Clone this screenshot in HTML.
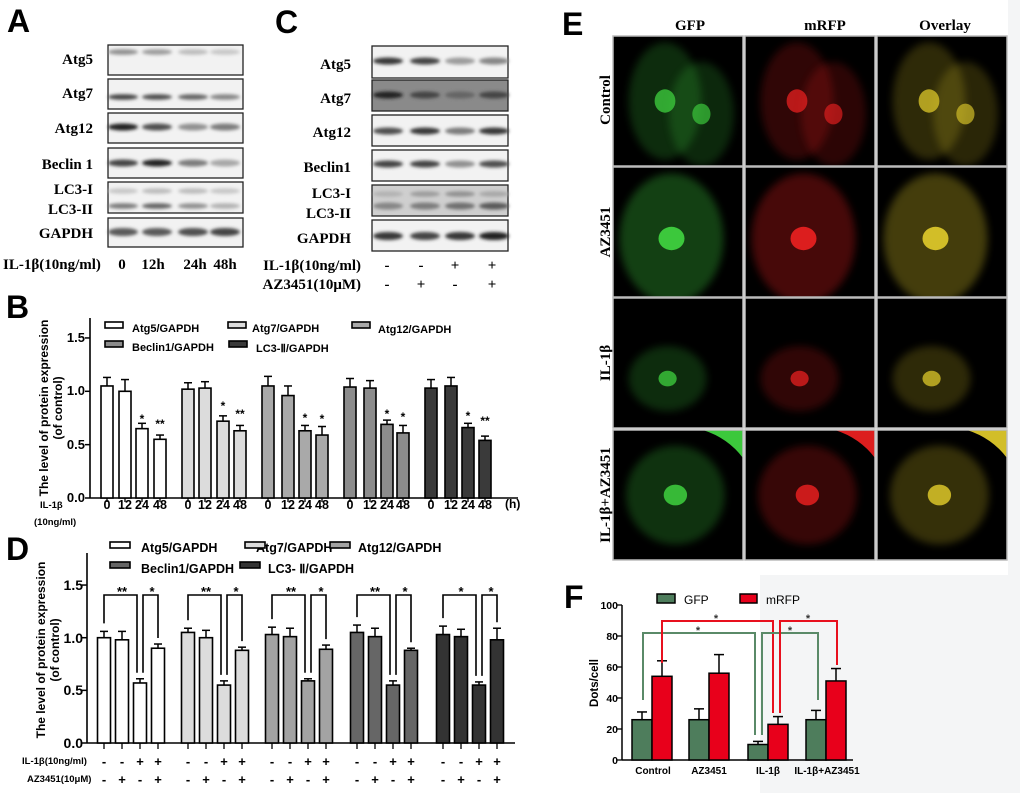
<!DOCTYPE html>
<html><head><meta charset="utf-8"><style>
html,body{margin:0;padding:0;background:#fff;}
svg{display:block;}
.L{font-family:"Liberation Sans",sans-serif;font-weight:bold;font-size:32px;}
.s{font-family:"Liberation Serif",serif;font-weight:bold;font-size:15px;}
.a{font-family:"Liberation Sans",sans-serif;font-weight:bold;}
</style></head><body>
<svg id="f" width="1020" height="793" viewBox="0 0 1020 793" xmlns="http://www.w3.org/2000/svg">
<defs>
<filter id="bl" x="-20%" y="-100%" width="140%" height="300%"><feGaussianBlur stdDeviation="1.6"/></filter>
<filter id="bl2" x="-50%" y="-50%" width="200%" height="200%"><feGaussianBlur stdDeviation="4"/></filter>
</defs>
<rect x="0" y="0" width="1020" height="793" fill="#fff"/>
<rect x="760" y="575" width="260" height="218" fill="#f4f5f6"/>
<rect x="1008" y="0" width="12" height="575" fill="#f4f5f6"/>
<text class="L" x="7" y="32">A</text>
<text class="L" x="275" y="33">C</text>
<text class="L" x="562" y="35">E</text>
<text class="L" x="6" y="318">B</text>
<text class="L" x="6" y="560">D</text>
<text class="L" x="564" y="608" font-size="28">F</text>

<g class="s" text-anchor="end">
<text x="93" y="64">Atg5</text>
<text x="93" y="98">Atg7</text>
<text x="93" y="133">Atg12</text>
<text x="93" y="169">Beclin 1</text>
<text x="93" y="194">LC3-I</text>
<text x="93" y="214">LC3-II</text>
<text x="93" y="238">GAPDH</text>
</g>
<g id="blA"></g>
<text class="s" x="3" y="269">IL-1β(10ng/ml)</text>
<g class="s" text-anchor="middle"><text x="122" y="269">0</text><text x="153" y="269">12h</text><text x="195" y="269">24h</text><text x="225" y="269">48h</text></g>

<g class="s" text-anchor="end">
<text x="351" y="69">Atg5</text>
<text x="351" y="103">Atg7</text>
<text x="351" y="137">Atg12</text>
<text x="351" y="172">Beclin1</text>
<text x="351" y="198">LC3-I</text>
<text x="351" y="218">LC3-II</text>
<text x="351" y="243">GAPDH</text>
<text x="361" y="270">IL-1β(10ng/ml)</text>
<text x="361" y="289">AZ3451(10μM)</text>
</g>
<g class="s" text-anchor="middle" font-size="16">
<text x="387" y="270">-</text><text x="421" y="270">-</text><text x="455" y="270">+</text><text x="492" y="270">+</text>
<text x="387" y="289">-</text><text x="421" y="289">+</text><text x="455" y="289">-</text><text x="492" y="289">+</text>
</g>
<g id="blC"></g>

<g class="a" font-size="11">
<text transform="translate(48,408) rotate(-90)" text-anchor="middle" font-size="12">The level of protein expression</text>
<text transform="translate(62,408) rotate(-90)" text-anchor="middle" font-size="12">(of control)</text>
<g text-anchor="end" font-size="13"><text x="85" y="502">0.0</text><text x="85" y="449">0.5</text><text x="85" y="395">1.0</text><text x="85" y="342">1.5</text></g>
<g text-anchor="middle" font-size="12.5">
<text x="107" y="509">0</text><text x="125" y="509">12</text><text x="142" y="509">24</text><text x="160" y="509">48</text>
<text x="188" y="509">0</text><text x="205" y="509">12</text><text x="223" y="509">24</text><text x="240" y="509">48</text>
<text x="268" y="509">0</text><text x="288" y="509">12</text><text x="305" y="509">24</text><text x="322" y="509">48</text>
<text x="350" y="509">0</text><text x="370" y="509">12</text><text x="387" y="509">24</text><text x="403" y="509">48</text>
<text x="431" y="509">0</text><text x="451" y="509">12</text><text x="468" y="509">24</text><text x="485" y="509">48</text>
</g>
<text x="505" y="508" font-size="12">(h)</text>
<text x="40" y="508" font-size="9.5">IL-1β</text>
<text x="34" y="525" font-size="9.5">(10ng/ml)</text>
<text x="132" y="332">Atg5/GAPDH</text>
<text x="252" y="332">Atg7/GAPDH</text>
<text x="378" y="333">Atg12/GAPDH</text>
<text x="132" y="351">Beclin1/GAPDH</text>
<text x="256" y="352">LC3-Ⅱ/GAPDH</text>
</g>
<g id="chB"></g>

<g class="a" font-size="12">
<text transform="translate(45,650) rotate(-90)" text-anchor="middle">The level of protein expression</text>
<text transform="translate(59,650) rotate(-90)" text-anchor="middle">(of control)</text>
<g text-anchor="end" font-size="14"><text x="83" y="748">0.0</text><text x="83" y="695">0.5</text><text x="83" y="643">1.0</text><text x="83" y="590">1.5</text></g>
<text x="141" y="552" font-size="12.5">Atg5/GAPDH</text>
<text x="256" y="552" font-size="12.5">Atg7/GAPDH</text>
<text x="358" y="552" font-size="12.5">Atg12/GAPDH</text>
<text x="141" y="573" font-size="12.5">Beclin1/GAPDH</text>
<text x="268" y="573" font-size="12.5">LC3- Ⅱ/GAPDH</text>
<text x="22" y="764" font-size="9.5">IL-1β(10ng/ml)</text>
<text x="27" y="782" font-size="9.5">AZ3451(10μM)</text>
</g>
<g class="a" font-size="13" text-anchor="middle">
<text x="104" y="766">-</text><text x="122" y="766">-</text><text x="140" y="766">+</text><text x="158" y="766">+</text>
<text x="188" y="766">-</text><text x="206" y="766">-</text><text x="224" y="766">+</text><text x="242" y="766">+</text>
<text x="272" y="766">-</text><text x="290" y="766">-</text><text x="308" y="766">+</text><text x="326" y="766">+</text>
<text x="357" y="766">-</text><text x="375" y="766">-</text><text x="393" y="766">+</text><text x="411" y="766">+</text>
<text x="443" y="766">-</text><text x="461" y="766">-</text><text x="479" y="766">+</text><text x="497" y="766">+</text>
<text x="104" y="784">-</text><text x="122" y="784">+</text><text x="140" y="784">-</text><text x="158" y="784">+</text>
<text x="188" y="784">-</text><text x="206" y="784">+</text><text x="224" y="784">-</text><text x="242" y="784">+</text>
<text x="272" y="784">-</text><text x="290" y="784">+</text><text x="308" y="784">-</text><text x="326" y="784">+</text>
<text x="357" y="784">-</text><text x="375" y="784">+</text><text x="393" y="784">-</text><text x="411" y="784">+</text>
<text x="443" y="784">-</text><text x="461" y="784">+</text><text x="479" y="784">-</text><text x="497" y="784">+</text>
</g>
<g class="a" font-size="13" text-anchor="middle">
<text x="122" y="596">**</text><text x="152" y="596">*</text>
<text x="206" y="596">**</text><text x="236" y="596">*</text>
<text x="291" y="596">**</text><text x="321" y="596">*</text>
<text x="375" y="596">**</text><text x="405" y="596">*</text>
<text x="461" y="596">*</text><text x="491" y="596">*</text>
</g>
<g class="a" font-size="12" text-anchor="middle">
<text x="142" y="423">*</text><text x="160" y="428">**</text>
<text x="223" y="410">*</text><text x="240" y="418">**</text>
<text x="305" y="422">*</text><text x="322" y="423">*</text>
<text x="387" y="418">*</text><text x="403" y="421">*</text>
<text x="468" y="420">*</text><text x="485" y="425">**</text>
</g>
<g id="chD"></g>

<g class="s" font-size="15" text-anchor="middle">
<text x="690" y="30">GFP</text><text x="825" y="30">mRFP</text><text x="945" y="30">Overlay</text>
<text transform="translate(610,100) rotate(-90)">Control</text>
<text transform="translate(610,232) rotate(-90)">AZ3451</text>
<text transform="translate(610,363) rotate(-90)">IL-1β</text>
<text transform="translate(610,495) rotate(-90)">IL-1β+AZ3451</text>
</g>
<g id="imE"></g>

<g class="a" font-size="10.5">
<text transform="translate(598,683) rotate(-90)" text-anchor="middle" font-size="11.5">Dots/cell</text>
<g text-anchor="end"><text x="618" y="764">0</text><text x="618" y="733">20</text><text x="618" y="702">40</text><text x="618" y="671">60</text><text x="618" y="640">80</text><text x="618" y="609">100</text></g>
<g text-anchor="middle" font-size="10"><text x="653" y="774">Control</text><text x="709" y="774">AZ3451</text><text x="768" y="774">IL-1β</text><text x="827" y="774">IL-1β+AZ3451</text></g>
<text x="684" y="604" font-weight="normal" font-size="12">GFP</text>
<text x="766" y="604" font-weight="normal" font-size="12">mRFP</text>
<g font-size="11" text-anchor="middle" fill="#333"><text x="716" y="622">*</text><text x="698" y="634">*</text><text x="808" y="622">*</text><text x="790" y="634">*</text></g>
</g>
<g id="chF"></g>
</svg>
<script>
var NS="http://www.w3.org/2000/svg";
function el(p,t,a){var e=document.createElementNS(NS,t);for(var k in a)e.setAttribute(k,a[k]);document.getElementById(p).appendChild(e);return e;}
function blot(p,x0,x1,rows,lanes){
 rows.forEach(function(r){
  el(p,'rect',{x:x0,y:r[0],width:x1-x0,height:r[1]-r[0],fill:r[4]||'#f2f2f2',stroke:'#222','stroke-width':1.3});
  r[2].forEach(function(band){
   var cy=band[0];
   band[1].forEach(function(int,i){
     var g=Math.round(255-int*220);
     el(p,'ellipse',{cx:lanes[i],cy:cy,rx:15,ry:band[2]||2.8,fill:'rgb('+g+','+g+','+g+')',filter:'url(#bl)'});
   });
  });
 });
}
var lA=[123,157,193,225];
blot('blA',108,243,[
 [45,75,[[52,[.5,.45,.3,.25]]]],
 [79,109,[[97,[.85,.8,.7,.55]]]],
 [113,143,[[127,[1,.8,.5,.6],3.5]]],
 [148,178,[[163,[.85,1,.6,.4],3.5]]],
 [182,213,[[191,[.25,.3,.3,.25]],[206,[.6,.7,.5,.35]]]],
 [218,247,[[232,[.75,.75,.8,.85],4]]]
],lA);
var lC=[388,425,460,494];
blot('blC',372,508,[
 [46,78,[[61,[.9,.85,.45,.55],3.5]]],
 [80,111,[[95,[1,.85,.7,.85],3.5]],0,'#8a8a8a'],
 [115,146,[[131,[.8,.9,.6,.9],3.5]]],
 [150,181,[[164,[.85,.85,.5,.8],3.5]]],
 [185,216,[[194,[.35,.45,.5,.4]],[206,[.55,.6,.65,.75],3.5]],0,'#cfcfcf'],
 [220,251,[[236,[.9,.85,.9,1],4]]]
],lC);
function bars(p,axX,axEnd,y0,unit,ytop,ticks,groups,cols,w,tickDown){
 el(p,'line',{x1:axX,y1:ytop,x2:axX,y2:y0,stroke:'#000','stroke-width':1.6});
 el(p,'line',{x1:axX,y1:y0,x2:axEnd,y2:y0,stroke:'#000','stroke-width':1.6});
 ticks.forEach(function(t){el(p,'line',{x1:axX-5,y1:y0-t*unit,x2:axX,y2:y0-t*unit,stroke:'#000','stroke-width':1.5});});
 groups.forEach(function(g,gi){
  g.x.forEach(function(x,i){
   var v=g.v[i],e=g.e[i],yt=y0-v*unit,ye=y0-(v+e)*unit;
   el(p,'line',{x1:x,y1:yt,x2:x,y2:ye,stroke:'#000','stroke-width':1.5});
   el(p,'line',{x1:x-4,y1:ye,x2:x+4,y2:ye,stroke:'#000','stroke-width':1.5});
   el(p,'rect',{x:x-w/2,y:yt,width:w,height:v*unit,fill:cols[gi],stroke:'#000','stroke-width':1.6});
   el(p,'line',{x1:x,y1:y0,x2:x,y2:y0+tickDown,stroke:'#000','stroke-width':1.3});
  });
 });
}
var colB=['#ffffff','#dcdcdc','#a9a9a9','#8c8c8c','#3a3a3a'];
bars('chB',90,518,498,106.7,318,[0,.5,1,1.5],[
 {x:[107,125,142,160],v:[1.05,1.0,.65,.55],e:[.08,.11,.05,.04]},
 {x:[188,205,223,240],v:[1.02,1.03,.72,.63],e:[.06,.06,.05,.05]},
 {x:[268,288,305,322],v:[1.05,.96,.63,.59],e:[.09,.09,.05,.08]},
 {x:[350,370,387,403],v:[1.04,1.03,.69,.61],e:[.08,.07,.04,.07]},
 {x:[431,451,468,485],v:[1.03,1.05,.66,.54],e:[.08,.08,.04,.04]}
],colB,12,4);
[[105,328,0],[228,328,1],[352,328,2],[105,347,3],[229,347,4]].forEach(function(l){el('chB','rect',{x:l[0],y:l[1]-6,width:18,height:6,fill:colB[l[2]],stroke:'#000','stroke-width':1.6});});
var colD=['#ffffff','#dcdcdc','#a3a3a3','#666666','#333333'];
var gD=[
 {x:[104,122,140,158],v:[1.0,.98,.57,.90],e:[.06,.08,.04,.04]},
 {x:[188,206,224,242],v:[1.05,1.0,.55,.88],e:[.04,.07,.04,.03]},
 {x:[272,290,308,326],v:[1.03,1.01,.59,.89],e:[.07,.08,.02,.04]},
 {x:[357,375,393,411],v:[1.05,1.01,.55,.88],e:[.07,.08,.04,.02]},
 {x:[443,461,479,497],v:[1.03,1.01,.55,.98],e:[.08,.07,.03,.11]}];
bars('chD',87,515,743,105.3,553,[0,.5,1,1.5],gD,colD,13,6);
gD.forEach(function(g){
 var top=595,y0=743,u=105.3;
 function br(a,b,ya,yb){el('chD','polyline',{points:(a)+','+ya+' '+a+','+top+' '+b+','+top+' '+b+','+yb,fill:'none',stroke:'#000','stroke-width':1.6});}
 br(g.x[0],g.x[2]-3,y0-(g.v[0]+g.e[0])*u-8,y0-(g.v[2]+g.e[2])*u-6);
 br(g.x[2]+3,g.x[3],y0-(g.v[2]+g.e[2])*u-6,y0-(g.v[3]+g.e[3])*u-6);
});
[[110,548,0],[245,548,1],[330,548,2],[110,568,3],[240,568,4]].forEach(function(l){el('chD','rect',{x:l[0],y:l[1]-6,width:20,height:6,fill:colD[l[2]],stroke:'#000','stroke-width':1.6});});
(function(){
 var p='chF',x0=622,y0=760,u=1.55;
 el(p,'line',{x1:x0,y1:605,x2:x0,y2:y0,stroke:'#000','stroke-width':1.5});
 el(p,'line',{x1:x0,y1:y0,x2:853,y2:y0,stroke:'#000','stroke-width':1.5});
 [0,20,40,60,80,100].forEach(function(t){el(p,'line',{x1:x0-5,y1:y0-t*u,x2:x0,y2:y0-t*u,stroke:'#000','stroke-width':1.3});});
 var c=[652,709,768,826],g=[26,26,10,26],ge=[5,7,2,6],r=[54,56,23,51],re=[10,12,5,8];
 c.forEach(function(x,i){
  [[x-10,g[i],ge[i],'#4e7d5c'],[x+10,r[i],re[i],'#e8001b']].forEach(function(b){
   var yt=y0-b[1]*u,ye=y0-(b[1]+b[2])*u;
   el(p,'line',{x1:b[0],y1:yt,x2:b[0],y2:ye,stroke:'#000','stroke-width':1.5});
   el(p,'line',{x1:b[0]-5,y1:ye,x2:b[0]+5,y2:ye,stroke:'#000','stroke-width':1.5});
   el(p,'rect',{x:b[0]-10,y:yt,width:20,height:b[1]*u,fill:b[3],stroke:'#000','stroke-width':1.5});
  });
 });
 function br(a,b,ya,yb,top,col){el(p,'polyline',{points:a+','+ya+' '+a+','+top+' '+b+','+top+' '+b+','+yb,fill:'none',stroke:col,'stroke-width':2});}
 br(643,755,700,735,633,'#5a8a68');
 br(662,773,663,713,621,'#e8101e');
 br(762,818,735,700,633,'#5a8a68');
 br(780,837,713,665,621,'#e8101e');
 el(p,'rect',{x:657,y:594,width:18,height:9,fill:'#4e7d5c',stroke:'#000','stroke-width':1.5});
 el(p,'rect',{x:740,y:594,width:17,height:9,fill:'#e8001b',stroke:'#000','stroke-width':1.5});
})();
(function(){
 var cols=[613,745,877],rows=[36,167,298,430],w=130,h=130;
 var tint=[[60,200,60],[220,30,30],[210,190,40]];
 var cells=[
  [[0.4,0.5,0.28,0.45,0.8,0.08,0.09,0.22],[0.68,0.6,0.25,0.4,0.7,0.07,0.08,0.2]],
  [[0.45,0.55,0.4,0.5,1,0.1,0.09,0.32]],
  [[0.42,0.62,0.3,0.25,0.8,0.07,0.06,0.22]],
  [[0.48,0.5,0.38,0.38,0.9,0.09,0.08,0.25]]
 ];
 rows.forEach(function(y,ri){
  cols.forEach(function(x,ci){
   el('imE','rect',{x:x,y:y,width:w,height:h,fill:'#000'});
   var t=tint[ci],rgb='rgb('+t[0]+','+t[1]+','+t[2]+')';
   cells[ri].forEach(function(c){
     el('imE','ellipse',{cx:x+c[0]*w,cy:y+c[1]*h,rx:c[2]*w,ry:c[3]*h,fill:rgb,opacity:c[7],filter:'url(#bl2)'});
     el('imE','ellipse',{cx:x+c[0]*w,cy:y+c[1]*h,rx:c[5]*w,ry:c[6]*h,fill:rgb,opacity:c[4]});
   });
   if(ri==3){el('imE','path',{d:'M'+(x+90)+','+y+' L'+(x+w)+','+y+' L'+(x+w)+','+(y+28)+' Q'+(x+115)+','+(y+8)+' '+(x+90)+','+y+'Z',fill:rgb});}
   el('imE','rect',{x:x,y:y,width:w,height:h,fill:'none',stroke:'#bbb','stroke-width':1.5});
  });
 });
})();
</script>
</body></html>
